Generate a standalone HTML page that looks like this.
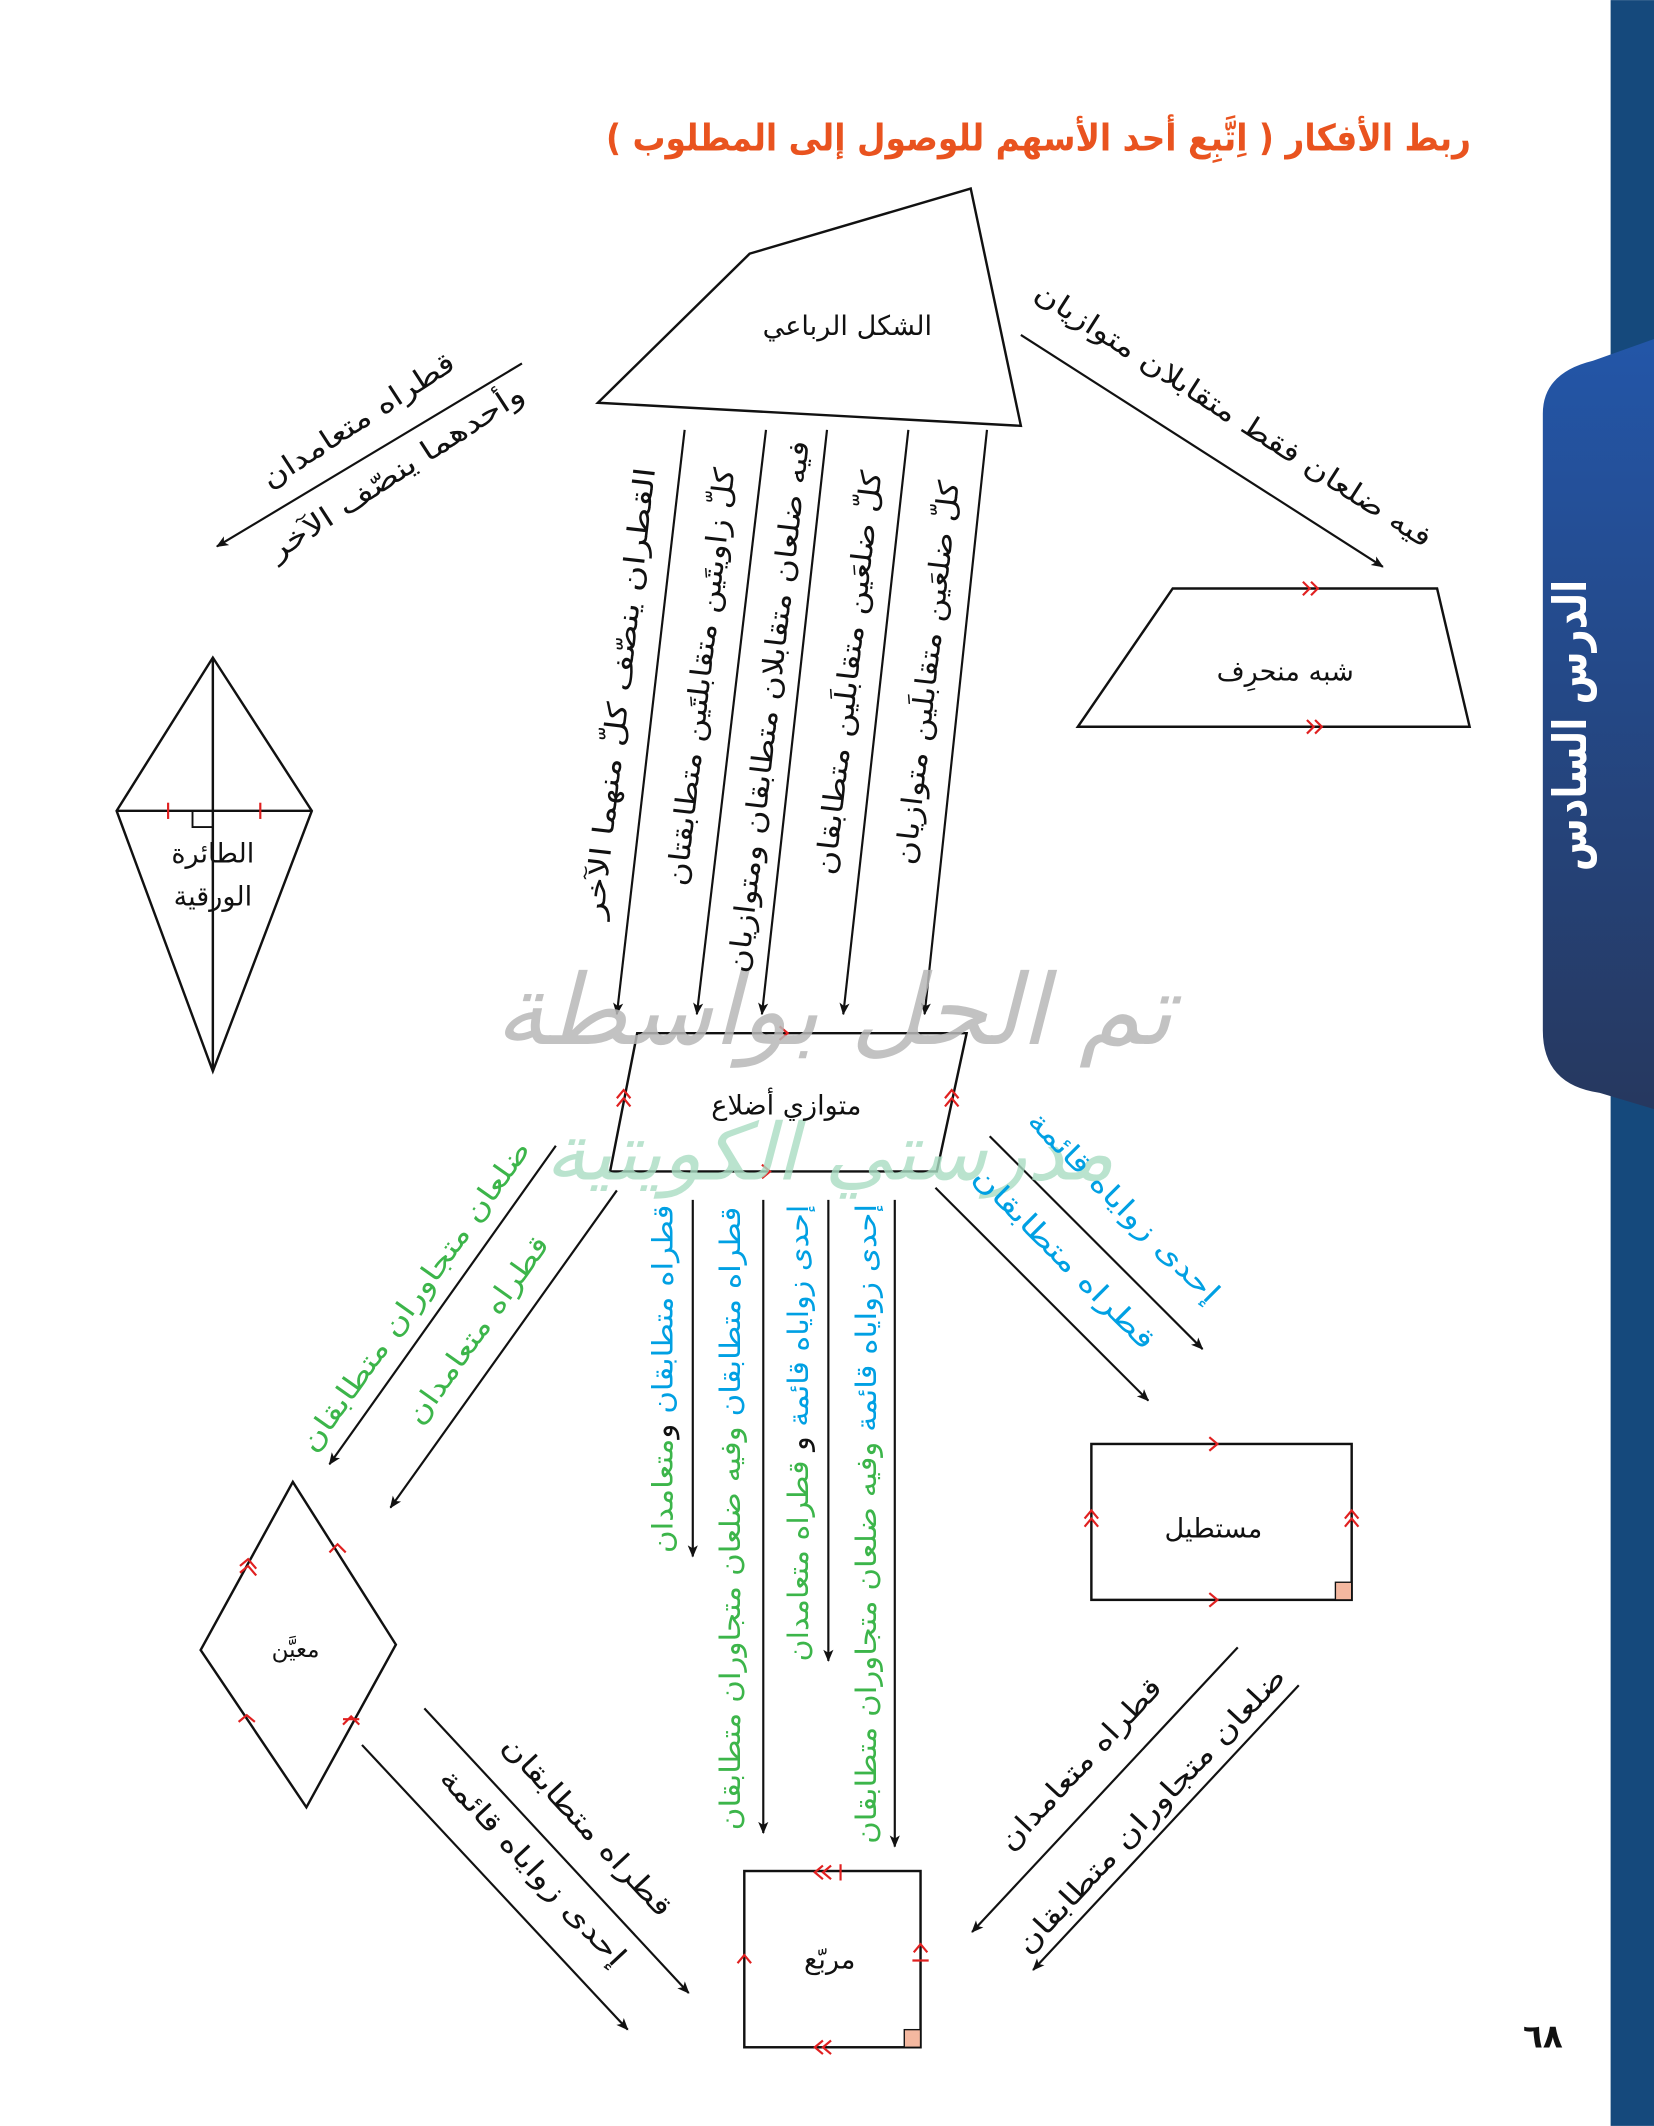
<!DOCTYPE html>
<html><head><meta charset="utf-8"><style>
html,body{margin:0;padding:0;background:#fff;}
svg{display:block;}
text{font-family:"DejaVu Sans","Liberation Sans",sans-serif;}
</style></head><body>
<svg width="1654" height="2126" viewBox="0 0 1220 1568" xmlns="http://www.w3.org/2000/svg">
<defs>
<marker id="ah" viewBox="0 0 12 10" refX="11" refY="5" markerWidth="9" markerHeight="8" orient="auto" markerUnits="userSpaceOnUse">
<path d="M0,0 L12,5 L0,10 L3,5 z" fill="#111"/></marker>
<linearGradient id="tab" x1="0" y1="0" x2="0" y2="1"><stop offset="0" stop-color="#2356a8"/><stop offset="1" stop-color="#26385f"/></linearGradient>
</defs>
<rect width="1220" height="1568" fill="#fff"/>
<rect x="1188" y="0" width="32" height="1568" fill="#15497c"/>
<path d="M1220,250 L1220,818 L1180,806 Q1138,800 1138,760 L1138,305 Q1138,275 1175,266 Z" fill="url(#tab)"/>
<text transform="translate(1170,535) rotate(-90)" text-anchor="middle" font-size="34" font-weight="bold" fill="#fff" textLength="215" lengthAdjust="spacingAndGlyphs">الدرس السادس</text>
<text x="766" y="111" text-anchor="middle" font-size="27" font-weight="bold" fill="#e9531f" textLength="638" lengthAdjust="spacingAndGlyphs">ربط الأفكار ( اِتَّبِع أحد الأسهم للوصول إلى المطلوب )</text>

<g fill="none" stroke="#111" stroke-width="1.8">
<polygon points="553,187 716,139 753,314 441,297"/>
<polygon points="865,434 1060,434 1084,536 795,536"/>
<polygon points="157,485 230,598 157,790 86,598"/>
<line x1="157" y1="485" x2="157" y2="790"/><line x1="86" y1="598" x2="230" y2="598"/>
<polyline points="142,598 142,610 157,610" stroke-width="1.4"/>
<polygon points="470,762 713,762 691,864 450,864"/>
<rect x="805" y="1065" width="192" height="115"/>
<polygon points="216,1093 292,1213 226,1333 148,1217"/>
<rect x="549" y="1380" width="130" height="130"/>
</g>
<rect x="985" y="1167" width="12" height="13" fill="#f4b8a0" stroke="#111" stroke-width="1"/>
<rect x="667" y="1497" width="12" height="13" fill="#f4b8a0" stroke="#111" stroke-width="1"/>

<g stroke="#111" stroke-width="1.6" marker-end="url(#ah)">
<line x1="505" y1="317" x2="455" y2="748"/>
<line x1="565" y1="317" x2="514" y2="748"/>
<line x1="610" y1="317" x2="562" y2="748"/>
<line x1="670" y1="317" x2="622" y2="748"/>
<line x1="728" y1="317" x2="682" y2="748"/>
<line x1="385" y1="268" x2="160" y2="403"/>
<line x1="753" y1="247" x2="1020" y2="418"/>
<line x1="410" y1="845" x2="243" y2="1080"/>
<line x1="455" y1="878" x2="288" y2="1112"/>
<line x1="511" y1="885" x2="511" y2="1148"/>
<line x1="563" y1="885" x2="563" y2="1352"/>
<line x1="611" y1="885" x2="611" y2="1225"/>
<line x1="660" y1="885" x2="660" y2="1362"/>
<line x1="730" y1="838" x2="887" y2="995"/>
<line x1="690" y1="876" x2="847" y2="1033"/>
<line x1="313" y1="1260" x2="508" y2="1470"/>
<line x1="267" y1="1287" x2="463" y2="1497"/>
<line x1="913" y1="1215" x2="717" y2="1425"/>
<line x1="958" y1="1243" x2="762" y2="1453"/>
</g>

<g fill="none" stroke="#e02020" stroke-width="1.6">
<line x1="124" y1="592" x2="124" y2="604"/><line x1="192" y1="592" x2="192" y2="604"/>
<polyline points="961,429 966,434 961,439"/><polyline points="967,429 972,434 967,439"/>
<polyline points="964,531 969,536 964,541"/><polyline points="970,531 975,536 970,541"/>
<polyline points="575,757 581,762 575,767"/><polyline points="562,859 568,864 562,869"/>
<polyline points="455,810 460,804 465,810"/><polyline points="455,816 460,810 465,816"/>
<polyline points="697,810 702,804 707,810"/><polyline points="697,816 702,810 707,816"/>
<polyline points="892,1060 898,1065 892,1070"/><polyline points="892,1175 898,1180 892,1185"/>
<polyline points="800,1120 805,1114 810,1120"/><polyline points="800,1126 805,1120 810,1126"/>
<polyline points="992,1120 997,1114 1002,1120"/><polyline points="992,1126 997,1120 1002,1126"/>
<polyline points="177,1155 183,1150 189,1157"/><polyline points="177,1160 183,1155 189,1162"/>
<polyline points="243,1145 249,1139 255,1145"/>
<polyline points="176,1270 182,1265 188,1270"/>
<polyline points="253,1272 259,1266 265,1272"/><polyline points="253,1268 265,1268"/>
<polyline points="607,1376 601,1381 607,1386"/><polyline points="613,1376 607,1381 613,1386"/><line x1="620" y1="1375" x2="620" y2="1387"/>
<polyline points="544,1448 549,1442 554,1448"/>
<polyline points="674,1440 679,1434 684,1440"/><line x1="673" y1="1446" x2="685" y2="1446"/>
<polyline points="607,1505 601,1510 607,1515"/><polyline points="613,1505 607,1510 613,1515"/>
</g>

<text x="615" y="770" text-anchor="middle" font-size="72" font-style="italic" fill="#b8b8b8" opacity="0.85" textLength="500" lengthAdjust="spacingAndGlyphs">تم الحل بواسطة</text>
<text x="612" y="870" text-anchor="middle" font-size="58" font-style="italic" fill="#a9ddc3" opacity="0.8" textLength="420" lengthAdjust="spacingAndGlyphs">مدرستي الكويتية</text>

<g font-size="20" fill="#111" text-anchor="middle">
<text x="625" y="247">الشكل الرباعي</text>
<text x="948" y="502">شبه منحرِف</text>
<text x="157" y="636">الطائرة</text>
<text x="157" y="668">الورقية</text>
<text x="580" y="822">متوازي أضلاع</text>
<text x="895" y="1134">مستطيل</text>
<text x="218" y="1222" font-size="17">معيَّن</text>
<text x="612" y="1452">مربّع</text>
<text x="1138" y="1510" font-size="24" font-weight="bold">٦٨</text>
</g>

<g font-size="21" fill="#111" text-anchor="middle" lengthAdjust="spacingAndGlyphs">
<text transform="translate(464,512) rotate(-83.4)" textLength="335" lengthAdjust="spacingAndGlyphs">القطران ينصّف كلّ منهما الآخر</text>
<text transform="translate(524,500) rotate(-83.4)" textLength="310" lengthAdjust="spacingAndGlyphs">كلّ زاويتَين متقابلتَين متطابقتان</text>
<text transform="translate(574,522) rotate(-83.4)" textLength="395" lengthAdjust="spacingAndGlyphs">فيه ضلعان متقابلان متطابقان ومتوازيان</text>
<text transform="translate(633,497) rotate(-83.4)" textLength="300" lengthAdjust="spacingAndGlyphs">كلّ ضلعَين متقابلَين متطابقان</text>
<text transform="translate(691,497) rotate(-83.4)" textLength="285" lengthAdjust="spacingAndGlyphs">كلّ ضلعَين متقابلَين متوازيان</text>
<text transform="translate(268,316) rotate(-33)" textLength="165" lengthAdjust="spacingAndGlyphs">قطراه متعامدان</text>
<text transform="translate(296,354) rotate(-33)" textLength="220" lengthAdjust="spacingAndGlyphs">وأحدهما ينصّف الآخر</text>
<text transform="translate(906,312) rotate(32.6)" textLength="343" lengthAdjust="spacingAndGlyphs">فيه ضلعان فقط متقابلان متوازيان</text>
</g>

<g font-size="21" text-anchor="middle">
<text transform="translate(312,960) rotate(-54.6)" fill="#3cb54a" textLength="276" lengthAdjust="spacingAndGlyphs">ضلعان متجاوران متطابقان</text>
<text transform="translate(358,985) rotate(-54.6)" fill="#3cb54a" textLength="165" lengthAdjust="spacingAndGlyphs">قطراه متعامدان</text>
<text transform="translate(496,1017) rotate(-90)" textLength="257" lengthAdjust="spacingAndGlyphs"><tspan fill="#00a0e3">قطراه متطابقان</tspan><tspan fill="#111"> و</tspan><tspan fill="#3cb54a">متعامدان</tspan></text>
<text transform="translate(546,1120) rotate(-90)" textLength="460" lengthAdjust="spacingAndGlyphs"><tspan fill="#00a0e3">قطراه متطابقان</tspan><tspan fill="#3cb54a"> وفيه ضلعان متجاوران متطابقان</tspan></text>
<text transform="translate(596,1057) rotate(-90)" textLength="337" lengthAdjust="spacingAndGlyphs"><tspan fill="#00a0e3">إحدى زواياه قائمة</tspan><tspan fill="#111"> و </tspan><tspan fill="#3cb54a">قطراه متعامدان</tspan></text>
<text transform="translate(646,1124) rotate(-90)" textLength="472" lengthAdjust="spacingAndGlyphs"><tspan fill="#00a0e3">إحدى زواياه قائمة</tspan><tspan fill="#3cb54a"> وفيه ضلعان متجاوران متطابقان</tspan></text>
<text transform="translate(824,895) rotate(45)" fill="#00a0e3" textLength="190" lengthAdjust="spacingAndGlyphs">إحدى زواياه قائمة</text>
<text transform="translate(780,933) rotate(45)" fill="#00a0e3" textLength="180" lengthAdjust="spacingAndGlyphs">قطراه متطابقان</text>
<text transform="translate(428,1352) rotate(47)" fill="#111" textLength="173" lengthAdjust="spacingAndGlyphs">قطراه متطابقان</text>
<text transform="translate(388,1382) rotate(47)" fill="#111" textLength="190" lengthAdjust="spacingAndGlyphs">إحدى زواياه قائمة</text>
<text transform="translate(802,1306) rotate(-47)" fill="#111" textLength="165" lengthAdjust="spacingAndGlyphs">قطراه متعامدان</text>
<text transform="translate(854,1340) rotate(-47)" fill="#111" textLength="280" lengthAdjust="spacingAndGlyphs">ضلعان متجاوران متطابقان</text>
</g>
</svg>
</body></html>
